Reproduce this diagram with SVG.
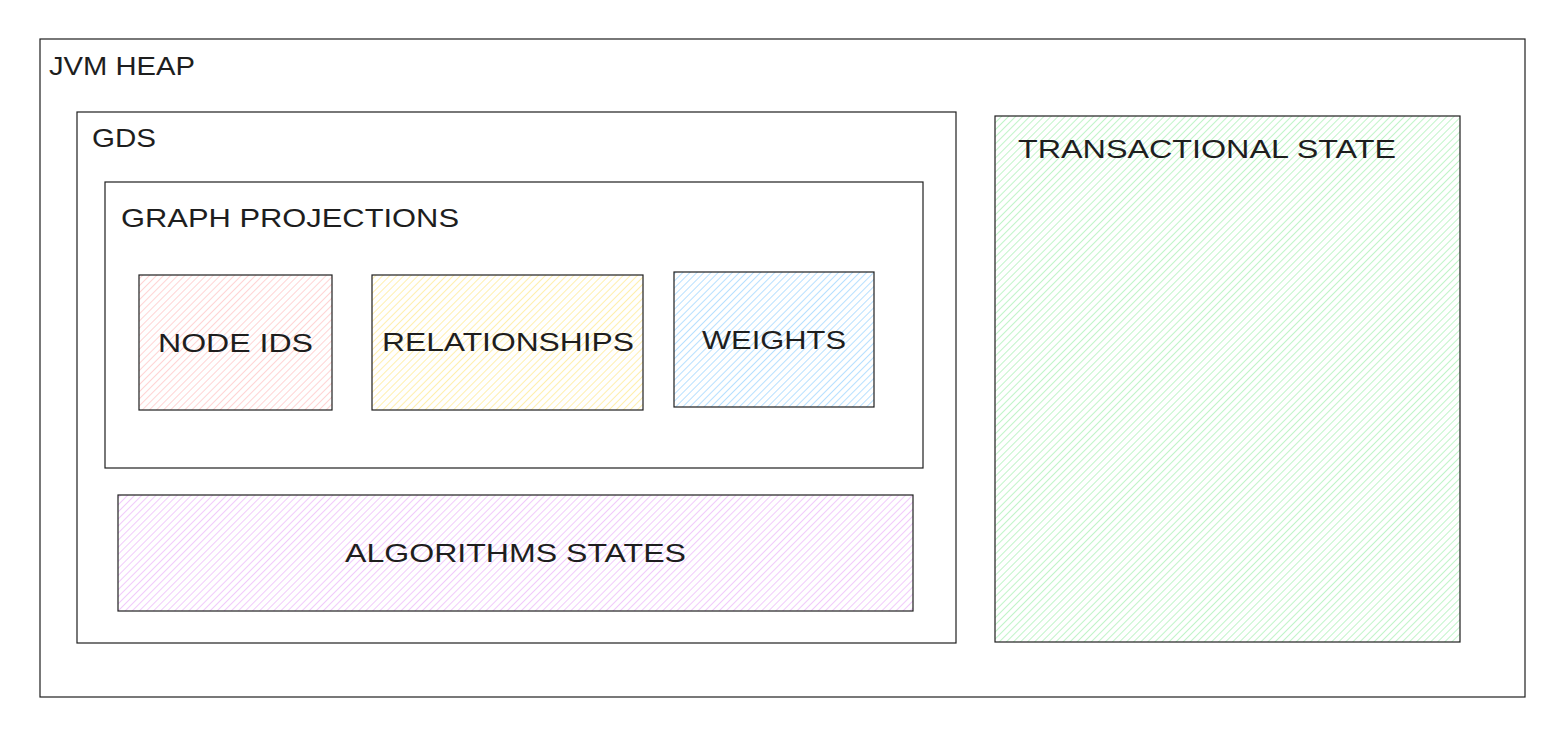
<svg xmlns="http://www.w3.org/2000/svg" width="1566" height="738" viewBox="0 0 1566 738">
<style>
.box{fill:none;stroke:#1e1e1e;stroke-width:1.2}
.t{font-family:"Liberation Sans",Arial,sans-serif;font-size:26px;fill:#1e1e1e;lengthAdjust:spacingAndGlyphs}
</style>
<defs>
<pattern id="hRed" width="5" height="5" patternUnits="userSpaceOnUse" patternTransform="rotate(45)"><rect width="5" height="5" fill="#fff"/><line x1="0" y1="0" x2="0" y2="5" stroke="#ffc9c9" stroke-width="1.6"/></pattern>
<pattern id="hYel" width="5" height="5" patternUnits="userSpaceOnUse" patternTransform="rotate(45)"><rect width="5" height="5" fill="#fff"/><line x1="0" y1="0" x2="0" y2="5" stroke="#ffec99" stroke-width="1.6"/></pattern>
<pattern id="hBlu" width="5" height="5" patternUnits="userSpaceOnUse" patternTransform="rotate(45)"><rect width="5" height="5" fill="#fff"/><line x1="0" y1="0" x2="0" y2="5" stroke="#a5d8ff" stroke-width="1.6"/></pattern>
<pattern id="hGrn" width="5" height="5" patternUnits="userSpaceOnUse" patternTransform="rotate(45)"><rect width="5" height="5" fill="#fff"/><line x1="0" y1="0" x2="0" y2="5" stroke="#b2f2bb" stroke-width="1.6"/></pattern>
<pattern id="hPur" width="5" height="5" patternUnits="userSpaceOnUse" patternTransform="rotate(45)"><rect width="5" height="5" fill="#fff"/><line x1="0" y1="0" x2="0" y2="5" stroke="#eebefa" stroke-width="1.6"/></pattern>
</defs>
<rect width="1566" height="738" fill="#fff"/>
<g id="jvm-heap">
<rect class="box" x="40" y="39" width="1485" height="658"/>
<text class="t" x="49" y="75" textLength="146" lengthAdjust="spacingAndGlyphs">JVM HEAP</text>
</g>
<g id="gds">
<rect class="box" x="77" y="112" width="879" height="531"/>
<text class="t" x="92" y="147" textLength="64" lengthAdjust="spacingAndGlyphs">GDS</text>
</g>
<g id="graph-projections">
<rect class="box" x="105" y="182" width="818" height="286"/>
<text class="t" x="121" y="227" textLength="338" lengthAdjust="spacingAndGlyphs">GRAPH PROJECTIONS</text>
</g>
<g id="node-ids">
<rect class="box" x="139" y="275" width="193" height="135" fill="url(#hRed)" style="fill:url(#hRed)"/>
<text class="t" x="158" y="352" textLength="155" lengthAdjust="spacingAndGlyphs">NODE IDS</text>
</g>
<g id="relationships">
<rect class="box" x="372" y="275" width="271" height="135" style="fill:url(#hYel)"/>
<text class="t" x="382" y="351" textLength="252" lengthAdjust="spacingAndGlyphs">RELATIONSHIPS</text>
</g>
<g id="weights">
<rect class="box" x="674" y="272" width="200" height="135" style="fill:url(#hBlu)"/>
<text class="t" x="702" y="349" textLength="144" lengthAdjust="spacingAndGlyphs">WEIGHTS</text>
</g>
<g id="algorithms-states">
<rect class="box" x="118" y="495" width="795" height="116" style="fill:url(#hPur)"/>
<text class="t" x="345" y="562" textLength="341" lengthAdjust="spacingAndGlyphs">ALGORITHMS STATES</text>
</g>
<g id="transactional-state">
<rect class="box" x="995" y="116" width="465" height="526" style="fill:url(#hGrn)"/>
<text class="t" x="1018" y="158" textLength="378" lengthAdjust="spacingAndGlyphs">TRANSACTIONAL STATE</text>
</g>
<g id="connectors"></g>
</svg>
